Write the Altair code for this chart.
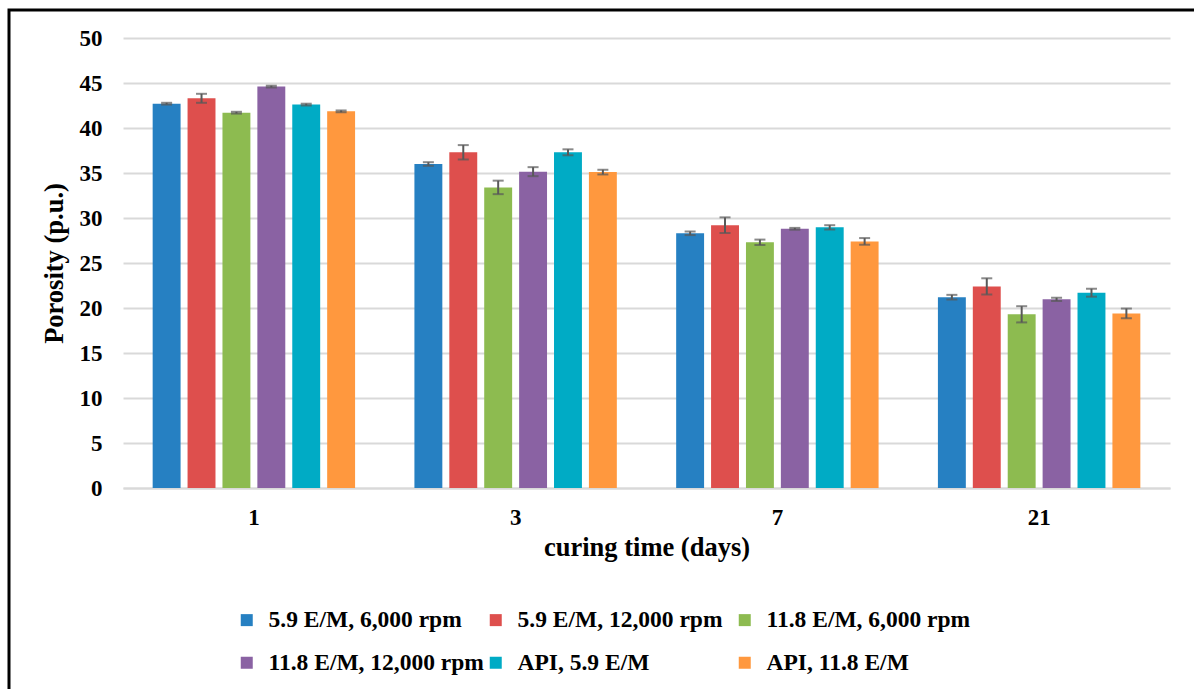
import altair as alt
import pandas as pd

times = ["1", "3", "7", "21"]
series = ["5.9 E/M, 6,000 rpm", "5.9 E/M, 12,000 rpm", "11.8 E/M, 6,000 rpm",
          "11.8 E/M, 12,000 rpm", "API, 5.9 E/M", "API, 11.8 E/M"]
colors = ["#2680C2", "#DE4F4D", "#8DBB50", "#8A62A3", "#00ABC5", "#FF983E"]

v_59_6k = [42.7, 36.0, 28.3, 21.2]
v_59_12k = [43.3, 37.3, 29.2, 22.4]
v_118_6k = [41.7, 33.4, 27.3, 19.3]
v_118_12k = [44.6, 35.15, 28.8, 20.96]
v_api_59 = [42.6, 37.3, 28.96, 21.7]
v_api_118 = [41.85, 35.1, 27.4, 19.4]

e_59_6k = [0.1, 0.2, 0.2, 0.26]
e_59_12k = [0.5, 0.8, 0.87, 0.9]
e_118_6k = [0.1, 0.75, 0.3, 0.9]
e_118_12k = [0.1, 0.5, 0.1, 0.18]
e_api_59 = [0.1, 0.33, 0.24, 0.44]
e_api_118 = [0.1, 0.26, 0.37, 0.54]

vals = [v_59_6k, v_59_12k, v_118_6k, v_118_12k, v_api_59, v_api_118]
errs = [e_59_6k, e_59_12k, e_118_6k, e_118_12k, e_api_59, e_api_118]

rows = []
for s, vs, es in zip(series, vals, errs):
    for t, v, e in zip(times, vs, es):
        rows.append({"time": t, "series": s, "value": v, "lo": v - e, "hi": v + e})
df = pd.DataFrame(rows)

W, H = 1047, 450
LEFT, TOP = 123, 38

x_enc = alt.X("time:N", sort=times,
              scale=alt.Scale(paddingInner=0.2, paddingOuter=0.1),
              axis=alt.Axis(title="curing time (days)", labelAngle=0, ticks=False,
                            domainColor="#d9d9d9", domainWidth=2, grid=False,
                            labelPadding=18, titlePadding=5, labelFontSize=23,
                            titleFontSize=26.5))
xoff = alt.XOffset("series:N", sort=series,
                   scale=alt.Scale(paddingInner=0.2, paddingOuter=0.1))

bars = alt.Chart(df).mark_bar().encode(
    x=x_enc,
    xOffset=xoff,
    y=alt.Y("value:Q", scale=alt.Scale(domain=[0, 50], nice=False),
            axis=alt.Axis(title="Porosity (p.u.)", values=list(range(0, 51, 5)),
                          domain=False, ticks=False, gridColor="#d9d9d9", gridWidth=2,
                          labelPadding=21, titlePadding=11, labelFontSize=23,
                          titleFontSize=26.5)),
    color=alt.Color("series:N", sort=series,
                    scale=alt.Scale(domain=series, range=colors),
                    legend=alt.Legend(title=None, orient="none", legendX=112, legendY=570,
                                      direction="horizontal", columns=3, gridAlign="all",
                                      symbolType="square", symbolSize=144,
                                      symbolStrokeWidth=0, labelFontSize=23.5,
                                      labelFontWeight="bold", labelOffset=10,
                                      rowPadding=18, columnPadding=-10, labelLimit=400)),
)

rule = alt.Chart(df).mark_rule(color="#595959", strokeWidth=2).encode(
    x=alt.X("time:N", sort=times), xOffset=xoff,
    y="lo:Q", y2="hi:Q")
cap_lo = alt.Chart(df).mark_tick(color="#595959", thickness=2, size=11).encode(
    x=alt.X("time:N", sort=times), xOffset=xoff, y="lo:Q")
cap_hi = alt.Chart(df).mark_tick(color="#595959", thickness=2, size=11).encode(
    x=alt.X("time:N", sort=times), xOffset=xoff, y="hi:Q")

frame = alt.Chart(pd.DataFrame({"a": [0]})).mark_rect(
    fill=None, stroke="black", strokeWidth=3).encode(
    x=alt.value(9 - LEFT), x2=alt.value(1200 - LEFT),
    y=alt.value(10 - TOP), y2=alt.value(720 - TOP))

chart = alt.layer(bars, rule, cap_lo, cap_hi, frame).properties(
    width=W, height=H,
    autosize=alt.AutoSizeParams(type="none"),
    padding={"left": LEFT, "top": TOP, "right": 1194 - LEFT - W, "bottom": 689 - TOP - H},
).configure(font="Liberation Serif").configure_axis(
    labelFontWeight="bold", titleFontWeight="bold", labelColor="black", titleColor="black"
).configure_legend(labelColor="black").configure_view(stroke=None)

chart.save("out.html", embed_options={"renderer": "svg", "actions": False})
